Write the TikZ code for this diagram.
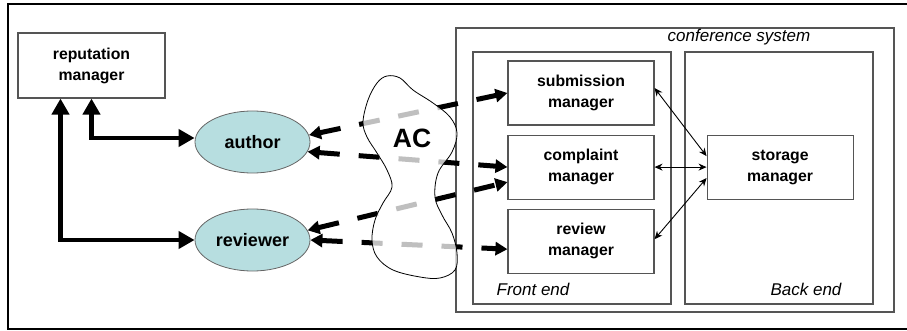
\documentclass[tikz,border=0pt]{standalone}
\usepackage{fontspec}
\setmainfont{Liberation Sans}
\usepackage{tikz}
\usetikzlibrary{positioning,arrows.meta,shapes.geometric}
\definecolor{actorfill}{HTML}{B7DEE0}
\definecolor{boxline}{HTML}{555555}

\begin{document}
\begin{tikzpicture}[x=1pt,y=-1pt,
  box/.style={draw=boxline,line width=1.1pt,minimum width=146pt,minimum height=64pt,align=center,inner sep=2pt,font=\fontsize{15.8}{21}\selectfont\bfseries},
  frm/.style={draw=boxline,line width=1.1pt,inner sep=0pt},
  actor/.style={ellipse,draw=black!60,fill=actorfill,line width=0.8pt,minimum width=115pt,minimum height=62pt,font=\fontsize{18}{20}\selectfont\bfseries},
  lbl/.style={font=\fontsize{17}{18}\selectfont\itshape},
  thk/.style={{Triangle[length=16pt,width=17pt]}-{Triangle[length=16pt,width=17pt]},line width=4.5pt},
  dsh/.style={{Triangle[length=12pt,width=13pt]}-{Triangle[length=12pt,width=13pt]},line width=5pt,dash pattern=on 21pt off 19pt},
  thn/.style={{Stealth[length=8pt,width=7pt]}-{Stealth[length=8pt,width=7pt]},line width=0.9pt}
]
\useasboundingbox (0,0) rectangle (907,331);
\draw[line width=2pt] (907,4) -- (8,4) -- (8,329) -- (907,329);

% conference system
\node[frm,minimum width=438pt,minimum height=284pt] (conf) at (675,170) {};
\node[frm,minimum width=198pt,minimum height=252pt] (front) at (572,178) {};
\node[frm,minimum width=188pt,minimum height=252pt] (back) at (779,178) {};
\node[lbl] at (739,37) {conference system};
\node[lbl] at (533,289) {Front end};
\node[lbl] at (806,289) {Back end};

\node[box] (sub) at (581,93) {submission\\manager};
\node[box,below=9pt of sub] (comp) {complaint\\manager};
\node[box,below=9pt of comp] (rev) {review\\manager};
\node[box,right=52pt of comp] (store) {storage\\manager};

% users
\node[box,minimum width=147pt,minimum height=65pt] (rep) at (91.5,65.5) {reputation\\manager};
\node[actor] (author) at (252.5,142) {author};
\node[actor] (reviewer) at (252.5,240) {reviewer};

\draw[thk] (rep.south) |- ([yshift=4pt]author.west);
\draw[thk] ([xshift=-31pt]rep.south) |- (reviewer.west);

% flows through AC
\draw[dsh] (author.7) -- (sub.west);
\draw[dsh] (author.-10) -- (comp.west);
\draw[dsh] (reviewer.10) -- ([yshift=-15pt]comp.west);
\draw[dsh] (reviewer.east) -- ([yshift=-8pt]rev.west);

\draw[draw=black,line width=0.8pt,fill=white,fill opacity=0.75]
  plot[smooth cycle,tension=0.6] coordinates {
  (363,122) (368,100) (377,83) (387,76) (400,78) (413,90) (433,103)
  (450,117) (457,133) (452,152) (438,173) (435,197) (442,215) (452,233)
  (457,253) (455,270) (440,278) (420,277) (393,270) (377,257) (372,240)
  (375,220) (383,203) (392,187) (387,170) (377,153) (367,137)};
\node[font=\fontsize{26.5}{28}\selectfont\bfseries] (ac) at (412,138) {AC};

% storage links
\draw[thn] ([yshift=5pt]sub.east) -- ([yshift=11pt]store.west);
\draw[thn] (comp.east) -- (store.west);
\draw[thn] ([yshift=2pt]rev.east) -- ([yshift=-11pt]store.west);
\end{tikzpicture}
\end{document}
